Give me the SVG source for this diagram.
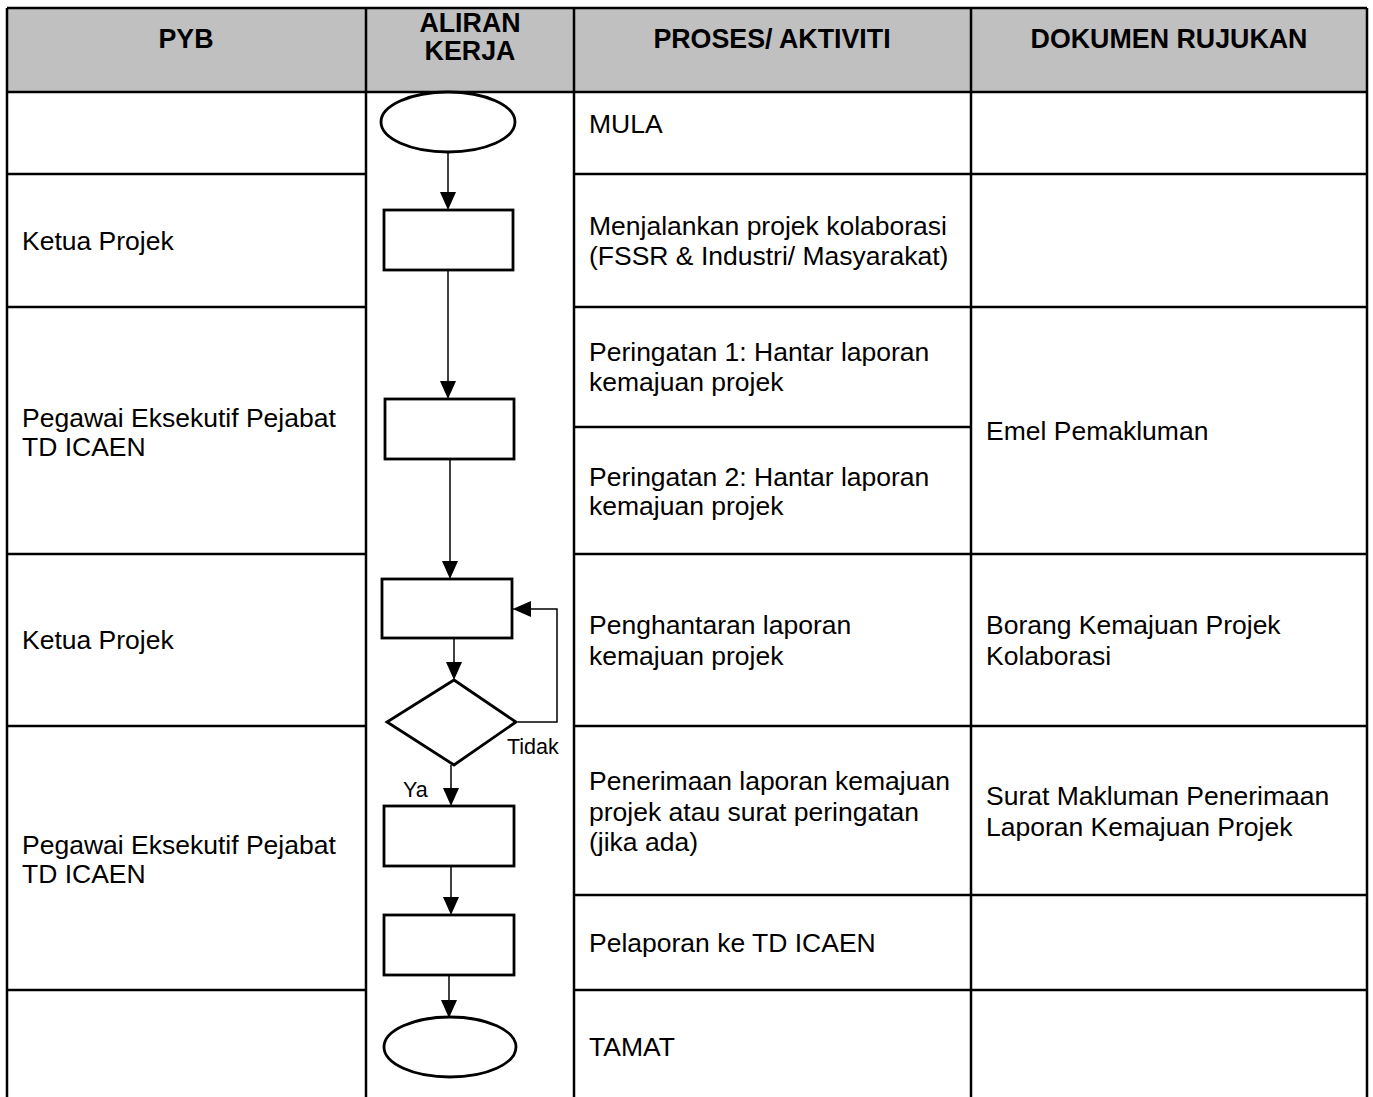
<svg xmlns="http://www.w3.org/2000/svg" width="1373" height="1097" viewBox="0 0 1373 1097">
<style>
.grid{stroke:#000;stroke-width:2.5;fill:none}
.hdr{font-family:"Liberation Sans",Arial,sans-serif;font-weight:bold;font-size:26.8px;text-anchor:middle;fill:#000}
.t{font-family:"Liberation Sans",Arial,sans-serif;font-size:26.5px;fill:#000}
.s{font-family:"Liberation Sans",Arial,sans-serif;font-size:21.5px;fill:#000}
.shape{fill:#fff;stroke:#000;stroke-width:2.8}
.conn{stroke:#000;stroke-width:1.5;fill:none}
</style>
<defs>
<marker id="arr" markerUnits="userSpaceOnUse" markerWidth="16" markerHeight="18" refX="18" refY="8" orient="auto">
<path d="M0,0 L18,8 L0,16 z" fill="#000"/>
</marker>
</defs>
<rect x="0" y="0" width="1373" height="1097" fill="#fff"/>
<g id="table">
<rect x="7" y="8" width="1360" height="84" fill="#c0c0c0"/>
<line class="grid" x1="7" y1="8" x2="1367" y2="8"/>
<line class="grid" x1="7" y1="92" x2="1367" y2="92"/>
<line class="grid" x1="7" y1="8" x2="7" y2="1097"/>
<line class="grid" x1="366" y1="8" x2="366" y2="1097"/>
<line class="grid" x1="574" y1="8" x2="574" y2="1097"/>
<line class="grid" x1="971" y1="8" x2="971" y2="1097"/>
<line class="grid" x1="1367" y1="8" x2="1367" y2="1097"/>
<line class="grid" x1="7" y1="174" x2="366" y2="174"/>
<line class="grid" x1="574" y1="174" x2="1367" y2="174"/>
<line class="grid" x1="7" y1="307" x2="366" y2="307"/>
<line class="grid" x1="574" y1="307" x2="1367" y2="307"/>
<line class="grid" x1="574" y1="427" x2="971" y2="427"/>
<line class="grid" x1="7" y1="554" x2="366" y2="554"/>
<line class="grid" x1="574" y1="554" x2="1367" y2="554"/>
<line class="grid" x1="7" y1="726" x2="366" y2="726"/>
<line class="grid" x1="574" y1="726" x2="1367" y2="726"/>
<line class="grid" x1="574" y1="895" x2="1367" y2="895"/>
<line class="grid" x1="7" y1="990" x2="366" y2="990"/>
<line class="grid" x1="574" y1="990" x2="1367" y2="990"/>
</g>
<g id="headers">
<text class="hdr" x="186" y="48">PYB</text>
<text class="hdr" x="470" y="32">ALIRAN</text>
<text class="hdr" x="470" y="60">KERJA</text>
<text class="hdr" x="772" y="48">PROSES/ AKTIVITI</text>
<text class="hdr" x="1169" y="48">DOKUMEN RUJUKAN</text>
</g>
<g id="pyb">
<text class="t" x="22" y="250">Ketua Projek</text>
<text class="t" x="22" y="427">Pegawai Eksekutif Pejabat</text>
<text class="t" x="22" y="456">TD ICAEN</text>
<text class="t" x="22" y="649">Ketua Projek</text>
<text class="t" x="22" y="854">Pegawai Eksekutif Pejabat</text>
<text class="t" x="22" y="883">TD ICAEN</text>
</g>
<g id="proses">
<text class="t" x="589" y="133">MULA</text>
<text class="t" x="589" y="235">Menjalankan projek kolaborasi</text>
<text class="t" x="589" y="265">(FSSR &amp; Industri/ Masyarakat)</text>
<text class="t" x="589" y="361">Peringatan 1: Hantar laporan</text>
<text class="t" x="589" y="391">kemajuan projek</text>
<text class="t" x="589" y="486">Peringatan 2: Hantar laporan</text>
<text class="t" x="589" y="515">kemajuan projek</text>
<text class="t" x="589" y="634">Penghantaran laporan</text>
<text class="t" x="589" y="665">kemajuan projek</text>
<text class="t" x="589" y="790">Penerimaan laporan kemajuan</text>
<text class="t" x="589" y="821">projek atau surat peringatan</text>
<text class="t" x="589" y="851">(jika ada)</text>
<text class="t" x="589" y="952">Pelaporan ke TD ICAEN</text>
<text class="t" x="589" y="1056">TAMAT</text>
</g>
<g id="dokumen">
<text class="t" x="986" y="440">Emel Pemakluman</text>
<text class="t" x="986" y="634">Borang Kemajuan Projek</text>
<text class="t" x="986" y="665">Kolaborasi</text>
<text class="t" x="986" y="805">Surat Makluman Penerimaan</text>
<text class="t" x="986" y="836">Laporan Kemajuan Projek</text>
</g>
<g id="connectors">
<line class="conn" x1="448" y1="152" x2="448" y2="210" marker-end="url(#arr)"/>
<line class="conn" x1="448" y1="270" x2="448" y2="399" marker-end="url(#arr)"/>
<line class="conn" x1="450" y1="459" x2="450" y2="579" marker-end="url(#arr)"/>
<line class="conn" x1="454" y1="638" x2="454" y2="680" marker-end="url(#arr)"/>
<polyline class="conn" points="518,722 557,722 557,609 513,609" marker-end="url(#arr)"/>
<line class="conn" x1="451" y1="765" x2="451" y2="806" marker-end="url(#arr)"/>
<line class="conn" x1="451" y1="866" x2="451" y2="915" marker-end="url(#arr)"/>
<line class="conn" x1="449" y1="975" x2="449" y2="1018" marker-end="url(#arr)"/>
<text class="s" x="507" y="754">Tidak</text>
<text class="s" x="403" y="797">Ya</text>
</g>
<g id="n-mula"><ellipse class="shape" cx="448" cy="122" rx="67" ry="30"/></g>
<g id="n-jalan"><rect class="shape" x="384" y="210" width="129" height="60"/></g>
<g id="n-peringatan"><rect class="shape" x="385" y="399" width="129" height="60"/></g>
<g id="n-hantar"><rect class="shape" x="382" y="579" width="130" height="59"/></g>
<g id="n-semak"><polygon class="shape" points="454,680 516,722 454,765 387,722"/></g>
<g id="n-terima"><rect class="shape" x="384" y="806" width="130" height="60"/></g>
<g id="n-lapor"><rect class="shape" x="384" y="915" width="130" height="60"/></g>
<g id="n-tamat"><ellipse class="shape" cx="450" cy="1047" rx="66" ry="30"/></g>
</svg>
